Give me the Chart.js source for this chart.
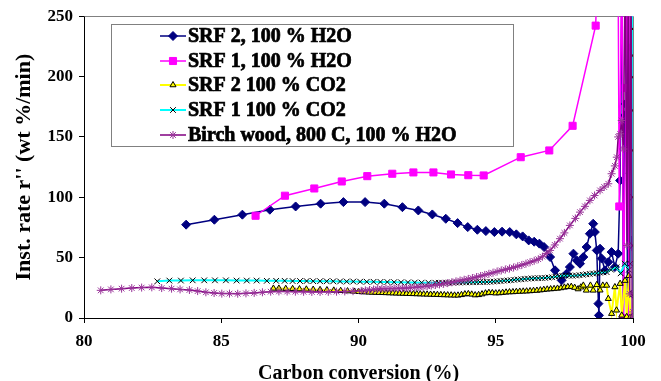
<!DOCTYPE html>
<html>
<head>
<meta charset="utf-8">
<script src="https://cdn.jsdelivr.net/npm/chart.js@4/dist/chart.umd.min.js"></script>
<style>
    html, body { margin: 0; padding: 0; background: #ffffff; }
    #wrap { width: 661px; height: 381px; position: relative; }
</style>
</head>
<body>
<div id="wrap"><canvas id="rateChart"></canvas></div>
<script>
/*
    Instantaneous gasification rate vs. carbon conversion.
*/

//Series labels, as in the legend
const seriesLabels = [
    "SRF 2, 100 % H2O",
    "SRF 1, 100 % H2O",
    "SRF 2 100 % CO2",
    "SRF 1 100 % CO2",
    "Birch wood, 800 C, 100 % H2O"
];

//Axis ticks
const xTicks = [80, 85, 90, 95, 100];
const yTicks = [0, 50, 100, 150, 200, 250];

//SRF 2, 100 % H2O
const srf2H2oX = [83.72, 84.75, 85.77, 86.77, 87.71, 88.62, 89.45, 90.24, 90.94, 91.60, 92.18, 92.69, 93.18, 93.61,
    93.98, 94.33, 94.64, 94.95, 95.23, 95.51, 95.75, 95.98, 96.20, 96.40, 96.59, 96.76, 96.98, 97.16, 97.40, 97.58,
    97.70, 97.83, 97.95, 98.07, 98.19, 98.31, 98.43, 98.55, 98.61, 98.68, 98.74, 98.76, 98.80, 98.86, 98.98, 99.10,
    99.22, 99.34, 99.46, 99.53, 99.60, 99.65, 99.70, 99.73, 99.76, 99.80, 99.90, 100, 100];
const srf2H2oY = [77.3, 81.4, 85.6, 89.7, 92.4, 94.7, 96.0, 96.0, 94.7, 91.8, 89.1, 85.8, 82.2, 78.6,
    75.3, 73.1, 72.0, 71.2, 71.5, 71.2, 69.3, 67.6, 64.3, 63.2, 61.6, 58.8, 50.5, 39.5, 31.2, 36.7,
    42.2, 53.3, 47.7, 45.0, 50.5, 58.8, 69.8, 78.1, 71.2, 56.0, 11.9, 2.2, 57.4, 49.2, 39.5, 46.3,
    54.6, 42.2, 53.3, 113.9, 300, 0, 167.7, 177.4, 300, 0, 120, 65, 20];

//SRF 1, 100 % H2O
const srf1H2oX = [86.25, 87.32, 88.39, 89.39, 90.32, 91.23, 92.00, 92.73, 93.37, 94.00, 94.56, 95.91, 96.95, 97.80,
    98.64, 98.75, 99.45, 99.50, 99.60, 99.65, 99.74, 99.80, 99.85, 99.90, 100, 100, 100, 100, 100, 100];
const srf1H2oY = [84.7, 101.3, 107.3, 113.1, 117.5, 119.5, 120.6, 120.6, 118.9, 118.3, 118.1, 133.2, 138.8, 159.2,
    242.2, 320, 320, 92.4, 320, 0, 190.6, 320, 0, 320, 224, 206, 188, 143, 118, 59];

//SRF 2 100 % CO2
const srf2Co2X = [86.90, 87.10, 87.35, 87.60, 87.85, 88.10, 88.35, 88.60, 88.85, 89.10, 89.35, 89.60, 89.85,
    90.000, 90.125, 90.250, 90.375, 90.500, 90.625, 90.750, 90.875, 91.000, 91.125, 91.250, 91.375, 91.500, 91.625,
    91.750, 91.875, 92.000, 92.125, 92.250, 92.375, 92.500, 92.625, 92.750, 92.875, 93.000, 93.125, 93.250, 93.375,
    93.500, 93.625, 93.750, 93.875, 94.000, 94.125, 94.250, 94.375, 94.500, 94.625, 94.750, 94.875, 95.000, 95.125,
    95.250, 95.375, 95.500, 95.625, 95.750, 95.875, 96.000, 96.125, 96.250, 96.375, 96.500, 96.625, 96.750, 96.875,
    97.000, 97.125, 97.250, 97.375, 97.500, 97.625, 97.750, 97.875, 98.00, 98.10, 98.19, 98.30, 98.45, 98.55,
    98.68, 98.80, 98.90, 99.04, 99.10, 99.22, 99.34, 99.40, 99.53, 99.59, 99.71, 99.77, 99.85, 99.90, 100];
const srf2Co2Y = [24.5, 24.5, 24.3, 24.2, 24.0, 23.8, 23.6, 23.4, 23.2, 22.9, 22.6, 22.3, 22.0,
    21.8, 21.6, 21.5, 21.3, 21.2, 21.1, 21.0, 20.9, 20.8, 20.7, 20.6, 20.5, 20.4, 20.3,
    20.2, 20.1, 20.0, 19.9, 19.8, 19.7, 19.6, 19.5, 19.4, 19.3, 19.2, 19.1, 19.0, 18.9,
    18.8, 18.8, 19.2, 19.8, 20.0, 19.6, 19.0, 19.2, 19.8, 20.6, 21.0, 20.8, 20.6, 20.7,
    21.0, 21.3, 21.5, 21.6, 21.8, 22.0, 22.1, 22.2, 22.4, 22.6, 22.8, 23.1, 23.5, 23.8,
    24.0, 24.2, 24.5, 24.9, 25.4, 25.8, 26.0, 25.2, 24.0, 25.5, 27.0, 22.9, 27.0, 22.9,
    27.5, 23.0, 27.0, 27.0, 16.0, 3.6, 25.7, 6.4, 28.5, 2.2, 31.0, 1.0, 35.0, 0.5, 2.0];

//SRF 1 100 % CO2
const srf1Co2X = [82.67, 83.11, 83.53, 83.96, 84.38, 84.77, 85.17, 85.56, 85.93, 86.29, 86.66, 87.00, 87.31, 87.60,
    87.87, 88.11, 88.35, 88.60, 88.84, 89.08, 89.33, 89.57, 89.81, 90.06, 90.30, 90.55, 90.80, 91.05, 91.30, 91.55,
    91.80, 92.05, 92.30, 92.55, 92.80, 92.925, 93.050, 93.175, 93.300, 93.425, 93.550, 93.675, 93.800, 93.925,
    94.050, 94.175, 94.300, 94.425, 94.550, 94.675, 94.800, 94.925, 95.050, 95.175, 95.300, 95.425, 95.550, 95.675,
    95.800, 95.925, 96.050, 96.175, 96.300, 96.425, 96.550, 96.675, 96.800, 96.925, 97.050, 97.175, 97.300, 97.425,
    97.550, 97.675, 97.800, 97.925, 98.050, 98.175, 98.300, 98.425, 98.550, 98.675, 98.800, 98.925, 99.04, 99.20,
    99.40, 99.55, 99.70, 99.85, 99.90, 99.97, 100, 100, 100, 100, 100, 100, 100, 100];
const srf1Co2Y = [30.4, 31.0, 31.0, 31.2, 31.2, 31.2, 31.2, 31.0, 31.0, 31.0, 30.8, 30.8, 30.8, 30.6,
    30.6, 30.6, 30.5, 30.5, 30.4, 30.4, 30.3, 30.2, 30.2, 30.1, 30.0, 30.0, 29.9, 29.8, 29.7, 29.6,
    29.5, 29.4, 29.3, 29.2, 29.2, 29.2, 29.2, 29.2, 29.3, 29.3, 29.4, 29.4, 29.5, 29.5,
    29.6, 29.6, 29.7, 29.8, 29.8, 29.9, 30.0, 30.2, 30.4, 30.6, 30.9, 31.1, 31.3, 31.6,
    31.9, 32.1, 32.4, 32.6, 32.8, 32.9, 33.0, 33.1, 33.2, 33.5, 33.8, 34.2, 34.6, 34.9,
    35.2, 35.1, 35.0, 35.2, 35.5, 35.8, 36.2, 36.5, 36.8, 37.1, 37.5, 37.8, 38.0, 40.0,
    42.0, 37.0, 45.0, 40.0, 45.0, 300, 239.5, 217.4, 199.4, 171.9, 138.8, 100, 60, 20];

//Birch wood, 800 C, 100 % H2O
const birchX = [80.61, 80.98, 81.37, 81.74, 82.10, 82.47, 82.83, 83.19, 83.50, 83.84, 84.14, 84.44, 84.74, 85.02,
    85.30, 85.60, 85.90, 86.20, 86.50, 86.80, 87.10, 87.40, 87.70, 88.00, 88.30, 88.60, 88.90, 89.20, 89.50, 89.80,
    90.10, 90.25, 90.40, 90.55, 90.70, 90.85, 91.00, 91.15, 91.30, 91.45, 91.60, 91.75, 91.90, 92.05, 92.20, 92.35,
    92.50, 92.65, 92.80, 92.95, 93.10, 93.25, 93.40, 93.55, 93.70, 93.85, 94.00, 94.15, 94.30, 94.45, 94.60, 94.75,
    94.90, 95.05, 95.20, 95.35, 95.50, 95.65, 95.80, 95.95, 96.10, 96.25, 96.40, 96.55, 96.70, 96.84, 96.98, 97.15,
    97.34, 97.50, 97.70, 97.90, 98.07, 98.25, 98.43, 98.60, 98.80, 98.95, 99.10, 99.22, 99.34, 99.41, 99.46, 99.53,
    99.59, 99.65, 99.72, 99.78, 99.83, 99.88, 99.93, 99.97, 100];
const birchY = [22.9, 23.7, 24.3, 24.8, 25.2, 25.4, 24.8, 24.3, 23.7, 23.2, 22.3, 21.3, 20.7, 20.2,
    20.2, 20.1, 20.4, 20.8, 21.3, 21.8, 22.0, 21.9, 21.8, 21.7, 21.6, 21.6, 21.7, 21.8, 22.0, 22.2,
    22.5, 22.9, 23.2, 23.6, 24.0, 24.2, 24.3, 24.4, 24.5, 24.6, 24.7, 24.9, 25.1, 25.4, 25.7, 26.0,
    26.4, 26.8, 27.3, 27.8, 28.3, 28.9, 29.6, 30.3, 31.0, 31.7, 32.4, 33.1, 33.9, 34.8, 35.7, 36.6,
    37.5, 38.5, 39.4, 40.2, 41.0, 41.8, 42.8, 43.9, 45.0, 46.2, 47.4, 48.7, 50.8, 53.5, 56.0, 60.5,
    65.7, 70.5, 76.7, 82.5, 87.7, 92.5, 97.4, 101.5, 105.7, 108.5, 111.2, 119.5, 126.0, 133.2, 150.0, 152.6,
    163.6, 140.0, 300, 60, 300, 20, 300, 0, 5];

//Pairs the x and y lists into points
function toPoints(xs, ys){
    return xs.map((x, i) => ({x: x, y: ys[i]}));
}

//Makes one line dataset
function lineSet(label, xs, ys, style){
    return Object.assign({
        label: label,
        data: toPoints(xs, ys),
        showLine: true,
        fill: false,
        tension: 0,
    }, style);
}

const serif = "'Liberation Serif', 'Times New Roman', serif";

const datasets = [
    lineSet(seriesLabels[0], srf2H2oX, srf2H2oY, {
        borderColor: "#000080", borderWidth: 1.5,
        pointStyle: "rectRot", pointRadius: 4.5,
        pointBackgroundColor: "#000080", pointBorderColor: "#000080", pointBorderWidth: 1,
        order: 5,
    }),
    lineSet(seriesLabels[1], srf1H2oX, srf1H2oY, {
        borderColor: "#FF00FF", borderWidth: 1.5,
        pointStyle: "rect", pointRadius: 5,
        pointBackgroundColor: "#FF00FF", pointBorderColor: "#FF00FF", pointBorderWidth: 1,
        order: 4,
    }),
    lineSet(seriesLabels[2], srf2Co2X, srf2Co2Y, {
        borderColor: "#FFFF00", borderWidth: 2,
        pointStyle: "triangle", pointRadius: 3.5,
        pointBackgroundColor: "#FFFF00", pointBorderColor: "#000000", pointBorderWidth: 1,
        order: 3,
    }),
    lineSet(seriesLabels[3], srf1Co2X, srf1Co2Y, {
        borderColor: "#00FFFF", borderWidth: 2,
        pointStyle: "crossRot", pointRadius: 4,
        pointBackgroundColor: "#000000", pointBorderColor: "#000000", pointBorderWidth: 1,
        order: 2,
    }),
    lineSet(seriesLabels[4], birchX, birchY, {
        borderColor: "#800080", borderWidth: 1.5,
        pointStyle: "star", pointRadius: 4,
        pointBackgroundColor: "#993399", pointBorderColor: "#993399", pointBorderWidth: 1,
        order: 1,
    }),
];

//Grey frame on the top and right of the plot area
const plotFrame = {
    id: "plotFrame",
    beforeDatasetsDraw(chart){
        const a = chart.chartArea, ctx = chart.ctx;
        ctx.save();
        ctx.strokeStyle = "#808080";
        ctx.lineWidth = 1;
        ctx.beginPath();
        ctx.moveTo(Math.round(a.left) + 0.5, Math.round(a.top) + 0.5);
        ctx.lineTo(Math.round(a.right) + 0.5, Math.round(a.top) + 0.5);
        ctx.lineTo(Math.round(a.right) + 0.5, Math.round(a.bottom));
        ctx.stroke();
        ctx.restore();
    }
};

//Boxed legend in the upper left of the plot
const boxLegend = {
    id: "boxLegend",
    afterDraw(chart){
        const ctx = chart.ctx;
        const legendFont = Chart.helpers.toFont({family: serif, size: 20, weight: "bold"}).string;
        ctx.save();
        ctx.fillStyle = "#ffffff";
        ctx.fillRect(111, 24, 402, 122);
        ctx.strokeStyle = "#808080";
        ctx.lineWidth = 1;
        ctx.strokeRect(111.5, 24.5, 402, 122);

        chart.data.datasets.forEach((ds, i) => {
            let y = Math.round(36 + i * 24.7);
            ctx.strokeStyle = ds.borderColor;
            ctx.lineWidth = ds.borderWidth;
            ctx.beginPath();
            ctx.moveTo(160, y);
            ctx.lineTo(186, y);
            ctx.stroke();

            ctx.fillStyle = ds.pointBackgroundColor;
            ctx.strokeStyle = ds.pointBorderColor;
            ctx.lineWidth = ds.pointBorderWidth;
            Chart.helpers.drawPoint(ctx, {
                pointStyle: ds.pointStyle,
                radius: ds.pointRadius,
                borderWidth: ds.pointBorderWidth,
                rotation: 0,
            }, 173, y);

            //heavier strokes, like the old print
            ctx.fillStyle = "#000000";
            ctx.strokeStyle = "#000000";
            ctx.lineWidth = 0.7;
            ctx.font = legendFont;
            ctx.textBaseline = "middle";
            ctx.textAlign = "left";
            ctx.fillText(ds.label, 188, y + 1);
            ctx.strokeText(ds.label, 188, y + 1);
        });
        ctx.restore();
    }
};

new Chart("rateChart", {
    type: "scatter",
    data: { datasets: datasets },
    options: {
        responsive: true,
        maintainAspectRatio: false,
        animation: false,
        layout: { padding: { left: 0, right: 28, top: 16, bottom: 0 } },
        plugins: {
            legend: { display: false },
            tooltip: { enabled: false },
        },
        scales: {
            x: {
                type: "linear",
                min: xTicks[0],
                max: xTicks[xTicks.length - 1],
                afterBuildTicks: s => { s.ticks = xTicks.map(v => ({value: v})); },
                afterFit: s => { s.height = 63; },
                grid: { drawOnChartArea: false, drawTicks: true, tickLength: 5, color: "#000000" },
                border: { color: "#000000", width: 1 },
                ticks: {
                    color: "#000000",
                    padding: 8,
                    maxRotation: 0,
                    font: { family: serif, size: 17, weight: "bold" },
                },
                title: {
                    display: true,
                    text: "Carbon conversion (%)",
                    color: "#000000",
                    padding: { top: 0, bottom: -3 },
                    font: { family: serif, size: 20, weight: "bold", lineHeight: 1 },
                },
            },
            y: {
                type: "linear",
                min: yTicks[0],
                max: yTicks[yTicks.length - 1],
                afterBuildTicks: s => { s.ticks = yTicks.map(v => ({value: v})); },
                afterFit: s => { s.width = 84; },
                grid: { drawOnChartArea: false, drawTicks: true, tickLength: 5, color: "#000000" },
                border: { color: "#000000", width: 1 },
                ticks: {
                    color: "#000000",
                    padding: 6,
                    font: { family: serif, size: 17, weight: "bold" },
                },
                title: {
                    display: true,
                    text: "Inst. rate r'' (wt %/min)",
                    color: "#000000",
                    padding: { top: 13, bottom: 0 },
                    font: { family: serif, size: 22, weight: "bold", lineHeight: 1 },
                },
            },
        },
    },
    plugins: [plotFrame, boxLegend],
});
</script>
</body>
</html>
